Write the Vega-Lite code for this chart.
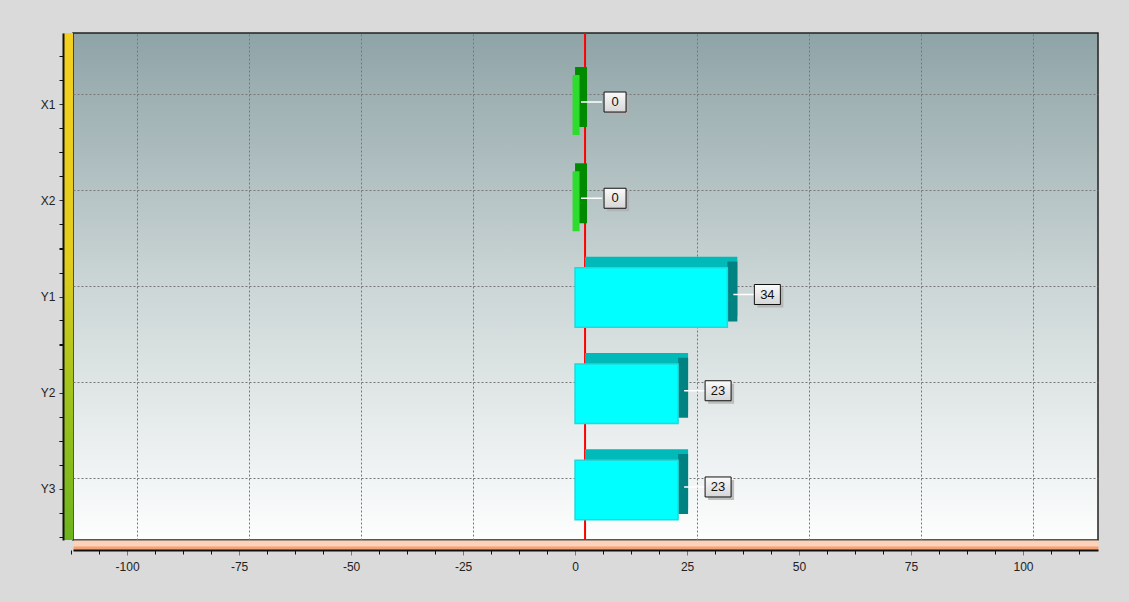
{
  "$schema": "https://vega.github.io/schema/vega-lite/v6.json",
  "width": 1025,
  "height": 507,
  "autosize": {"type": "none"},
  "padding": {"left": 73, "top": 33, "right": 31, "bottom": 62},
  "background": "#dadada",
  "data": {"values": [
    {"cat": "X1", "v": 0, "g": "X"},
    {"cat": "X2", "v": 0, "g": "X"},
    {"cat": "Y1", "v": 34, "g": "Y"},
    {"cat": "Y2", "v": 23, "g": "Y"},
    {"cat": "Y3", "v": 23, "g": "Y"}
  ]},
  "resolve": {"axis": {"x": "independent", "y": "independent"}},
  "layer": [
    {
      "data": {"values": [{}]},
      "mark": {"type": "rect", "fill": {"gradient": "linear", "x1": 0, "y1": 0, "x2": 0, "y2": 1, "stops": [{"offset": 0, "color": "#f4d020"}, {"offset": 0.45, "color": "#e2cc1c"}, {"offset": 0.7, "color": "#a4c41c"}, {"offset": 1, "color": "#6cb41e"}]}},
      "encoding": {
        "x": {"datum": -116.5, "type": "quantitative", "scale": {"domain": [-114.3, 114.5], "nice": false, "zero": false}, "axis": null},
        "x2": {"datum": -114.3}
      }
    },
    {
      "data": {"values": [{}]},
      "mark": {"type": "rule", "color": "#ff0000", "strokeWidth": 2},
      "encoding": {
        "x": {"datum": 0, "type": "quantitative", "scale": {"domain": [-114.3, 114.5], "nice": false, "zero": false},
          "axis": {"orient": "bottom", "title": null, "values": [-100, -75, -50, -25, 0, 25, 50, 75, 100], "labels": false, "ticks": false, "grid": true, "gridColor": "#777777", "gridDash": [2, 2], "gridWidth": 1, "domain": true, "domainColor": "#fcd3b8", "domainWidth": 10, "offset": 5}}
      }
    },
    {
      "transform": [{"filter": "datum.g == 'Y'"}],
      "mark": {"type": "bar", "color": "#00b9b9"},
      "encoding": {
        "x": {"field": "v", "type": "quantitative", "scale": {"domain": [-114.3, 114.5], "nice": false, "zero": false}, "axis": null},
        "y": {"field": "cat", "type": "nominal", "scale": {"domain": ["X1", "X2", "Y1", "Y2", "Y3"], "paddingInner": 0.38, "paddingOuter": 0.324},
          "axis": {"orient": "left", "title": null, "labels": false, "ticks": false, "domain": false, "grid": true, "gridColor": "#777777", "gridDash": [2, 2], "gridWidth": 1, "bandPosition": 0.5}}
      }
    },
    {
      "transform": [{"filter": "datum.g == 'Y'"}],
      "mark": {"type": "tick", "color": "#008282", "thickness": 10, "size": 60, "xOffset": -5, "yOffset": 5, "opacity": 1},
      "encoding": {
        "x": {"field": "v", "type": "quantitative", "axis": null},
        "y": {"field": "cat", "type": "nominal", "axis": null}
      }
    },
    {
      "transform": [{"filter": "datum.g == 'Y'"}],
      "mark": {"type": "bar", "color": "#00ffff", "stroke": "#22d8d8", "strokeWidth": 1.5, "xOffset": -10, "x2Offset": -10, "yOffset": 11},
      "encoding": {
        "x": {"field": "v", "type": "quantitative",
          "axis": {"orient": "bottom", "title": null, "values": [-100, -75, -50, -25, 0, 25, 50, 75, 100], "labelExpr": "'' + datum.value", "grid": false, "offset": 10, "tickOffset": -10, "ticks": true, "tickSize": 5, "tickColor": "#777777", "labelPadding": 6, "domainColor": "#111111", "domainWidth": 2, "labelFont": "Liberation Sans", "labelFontSize": 12, "labelColor": "#222222", "zindex": 1}},
        "y": {"field": "cat", "type": "nominal",
          "axis": {"orient": "left", "title": null, "grid": false, "offset": 10, "tickOffset": 10, "ticks": true, "tickSize": 4, "tickColor": "#333333", "labelPadding": 4, "domainColor": "#111111", "domainWidth": 2, "labelFont": "Liberation Sans", "labelFontSize": 12, "labelColor": "#222222", "bandPosition": 0.5, "zindex": 1}}
      }
    },
    {
      "transform": [{"filter": "datum.g == 'X'"}],
      "mark": {"type": "tick", "color": "#008a00", "thickness": 12, "size": 60, "xOffset": -4, "yOffset": 3, "opacity": 1},
      "encoding": {
        "x": {"field": "v", "type": "quantitative",
          "axis": {"orient": "bottom", "title": null, "labels": false, "ticks": false, "grid": false, "domain": true, "domainColor": "#f4a274", "domainWidth": 4, "offset": 8}},
        "y": {"field": "cat", "type": "nominal", "axis": null}
      }
    },
    {
      "transform": [{"filter": "datum.g == 'X'"}],
      "mark": {"type": "tick", "color": "#2edc2e", "thickness": 7, "size": 60, "xOffset": -9, "yOffset": 11, "opacity": 1},
      "encoding": {
        "x": {"field": "v", "type": "quantitative",
          "axis": {"orient": "bottom", "title": null, "labels": false, "domain": false, "grid": false, "ticks": true, "tickSize": 4, "tickColor": "#111111", "offset": 10, "tickOffset": -10, "zindex": 1,
            "values": [-112.5, -106.25, -93.75, -87.5, -81.25, -68.75, -62.5, -56.25, -43.75, -37.5, -31.25, -18.75, -12.5, -6.25, 6.25, 12.5, 18.75, 31.25, 37.5, 43.75, 56.25, 62.5, 68.75, 81.25, 87.5, 93.75, 106.25, 112.5]}},
        "y": {"field": "cat", "type": "nominal", "axis": null}
      }
    },
    {
      "mark": {"type": "rule", "color": "#ffffff", "strokeWidth": 1.5, "xOffset": -4, "x2Offset": 17, "yOffset": 8},
      "encoding": {
        "x": {"field": "v", "type": "quantitative", "axis": null},
        "x2": {"field": "v"},
        "y": {"field": "cat", "type": "nominal", "axis": null}
      }
    },
    {
      "transform": [{"filter": "datum.v < 10"}],
      "mark": {"type": "point", "shape": "M-1.1,-1H1.1V1H-1.1Z", "size": 400, "filled": true, "fill": "#b0b0b0", "opacity": 0.8, "strokeWidth": 0, "xOffset": 33, "yOffset": 11},
      "encoding": {
        "x": {"field": "v", "type": "quantitative", "axis": null},
        "y": {"field": "cat", "type": "nominal",
          "axis": {"orient": "left", "title": null, "labels": false, "domain": false, "grid": false, "ticks": true, "tickSize": 4, "tickColor": "#111111", "offset": 10, "tickOffset": 10, "bandPosition": 0.098, "zindex": 1}}
      }
    },
    {
      "transform": [{"filter": "datum.v >= 10"}],
      "mark": {"type": "point", "shape": "M-1.3,-1H1.3V1H-1.3Z", "size": 400, "filled": true, "fill": "#b0b0b0", "opacity": 0.8, "strokeWidth": 0, "xOffset": 33, "yOffset": 11},
      "encoding": {
        "x": {"field": "v", "type": "quantitative", "axis": null},
        "y": {"field": "cat", "type": "nominal",
          "axis": {"orient": "left", "title": null, "labels": false, "domain": false, "grid": false, "ticks": true, "tickSize": 4, "tickColor": "#111111", "offset": 10, "tickOffset": 10, "bandPosition": 0.902, "zindex": 1}}
      }
    },
    {
      "transform": [{"filter": "datum.v < 10"}],
      "mark": {"type": "point", "shape": "M-1.1,-1H1.1V1H-1.1Z", "size": 400, "filled": true, "opacity": 1, "fill": {"gradient": "linear", "x1": 0, "y1": 0, "x2": 0, "y2": 1, "stops": [{"offset": 0, "color": "#fbfbfb"}, {"offset": 1, "color": "#d6d6d6"}]}, "stroke": "#111111", "strokeWidth": 1, "xOffset": 30, "yOffset": 8},
      "encoding": {
        "x": {"field": "v", "type": "quantitative", "axis": null},
        "y": {"field": "cat", "type": "nominal",
          "axis": {"orient": "left", "title": null, "labels": false, "domain": false, "grid": false, "ticks": true, "tickSize": 4, "tickColor": "#111111", "offset": 10, "tickOffset": 10, "bandPosition": 1.304, "zindex": 1}}
      }
    },
    {
      "transform": [{"filter": "datum.v >= 10"}],
      "mark": {"type": "point", "shape": "M-1.3,-1H1.3V1H-1.3Z", "size": 400, "filled": true, "opacity": 1, "fill": {"gradient": "linear", "x1": 0, "y1": 0, "x2": 0, "y2": 1, "stops": [{"offset": 0, "color": "#fbfbfb"}, {"offset": 1, "color": "#d6d6d6"}]}, "stroke": "#111111", "strokeWidth": 1, "xOffset": 30, "yOffset": 8},
      "encoding": {
        "x": {"field": "v", "type": "quantitative", "axis": null},
        "y": {"field": "cat", "type": "nominal",
          "axis": {"orient": "left", "title": null, "labels": false, "domain": false, "grid": false, "ticks": true, "tickSize": 4, "tickColor": "#111111", "offset": 10, "tickOffset": 10, "bandPosition": -0.304, "zindex": 1}}
      }
    },
    {
      "mark": {"type": "text", "font": "Liberation Sans", "fontSize": 13, "color": "#111111", "align": "center", "baseline": "middle", "xOffset": 30, "yOffset": 8},
      "encoding": {
        "x": {"field": "v", "type": "quantitative", "axis": null},
        "y": {"field": "cat", "type": "nominal", "axis": null},
        "text": {"field": "v", "type": "quantitative"}
      }
    }
  ],
  "config": {
    "view": {
      "fill": {"gradient": "linear", "x1": 0, "y1": 0, "x2": 0, "y2": 1, "stops": [{"offset": 0, "color": "#8fa4a7"}, {"offset": 0.5, "color": "#ccd6d6"}, {"offset": 1, "color": "#fdfefe"}]},
      "stroke": "#222222",
      "strokeWidth": 1.5
    }
  }
}
